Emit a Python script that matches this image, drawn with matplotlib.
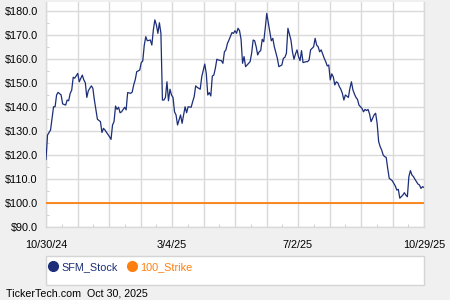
import matplotlib
matplotlib.use("Agg")
import matplotlib.pyplot as plt
from matplotlib.lines import Line2D
from matplotlib.patches import Rectangle
import numpy as np

plt.rcParams["font.family"] = ["Liberation Sans", "DejaVu Sans"]

# trading-day index (0 = 10/30/24, 250 = 10/29/25) and closing price
days = [0, 1, 3, 4, 5, 6, 7, 8, 10, 11, 13, 14, 15, 16, 17, 18, 19, 21, 22, 24,
        25, 26, 27, 28, 30, 31, 32, 33, 34, 36, 37, 38, 39, 42, 43, 44, 45, 46, 47, 48,
        49, 50, 52, 53, 54, 56, 57, 58, 59, 60, 62, 63, 64, 65, 66, 67, 69, 70, 71, 72,
        73, 74, 75, 76, 77, 78, 79, 80, 81, 82, 83, 84, 85, 86, 87, 89, 90, 91, 92, 93,
        94, 96, 97, 98, 99, 100, 102, 103, 105, 106, 107, 108, 109, 110, 111, 112, 113, 114, 116, 117,
        118, 119, 120, 121, 123, 124, 125, 126, 127, 128, 129, 130, 131, 132, 133, 135, 136, 137, 138, 139,
        140, 141, 142, 143, 144, 145, 146, 147, 148, 149, 150, 151, 153, 154, 156, 157, 158, 159, 160, 162,
        163, 164, 165, 166, 167, 168, 169, 170, 172, 173, 174, 175, 177, 178, 179, 180, 181, 182, 184, 185,
        186, 187, 188, 189, 190, 191, 192, 193, 194, 195, 196, 197, 198, 200, 201, 202, 203, 204, 205, 206,
        207, 209, 210, 211, 212, 213, 214, 215, 217, 218, 219, 220, 221, 222, 223, 224, 225, 226, 227, 229,
        230, 231, 232, 233, 234, 236, 237, 238, 239, 240, 241, 242, 243, 244, 245, 246, 247, 248, 249, 250]
price = [118.2, 128.3, 130.4, 135.3, 140.1, 140.1, 145.0, 146.1, 145.0, 141.3, 140.8, 142.9, 142.6, 145.7, 147.0, 152.4, 152.0, 154.0, 150.5, 153.3,
         151.3, 150.1, 144.0, 146.8, 148.8, 147.8, 142.9, 138.8, 134.9, 133.9, 129.4, 131.1, 130.4, 127.6, 126.5, 132.5, 133.9, 140.4, 139.0, 139.9,
         137.6, 138.0, 139.9, 138.8, 146.0, 145.7, 146.2, 149.2, 151.3, 154.7, 155.4, 158.5, 159.2, 165.8, 169.3, 167.6, 167.9, 165.8, 172.1, 176.3,
         174.2, 170.7, 175.1, 170.7, 142.9, 142.9, 144.0, 150.5, 142.6, 147.4, 145.0, 144.0, 138.0, 136.7, 132.5, 136.7, 133.2, 136.7, 140.1, 137.6,
         140.1, 139.9, 142.2, 144.3, 148.8, 148.2, 147.4, 152.6, 157.9, 154.0, 145.0, 146.0, 144.6, 152.9, 153.3, 156.1, 159.9, 159.6, 159.3, 158.2,
         163.0, 163.8, 166.5, 167.9, 171.0, 170.7, 171.8, 170.7, 172.8, 171.8, 168.2, 158.2, 161.0, 156.8, 157.5, 158.9, 162.4, 167.9, 167.6, 165.1,
         161.7, 163.0, 163.5, 168.2, 167.2, 172.8, 179.0, 175.1, 171.4, 167.6, 168.6, 165.1, 160.3, 156.8, 157.5, 160.3, 160.7, 162.4, 172.8, 167.9,
         163.0, 159.9, 162.1, 163.8, 161.0, 159.3, 163.5, 158.5, 158.9, 158.9, 159.6, 163.8, 165.1, 168.6, 165.8, 165.1, 163.0, 163.8, 160.3, 158.9,
         157.1, 157.5, 151.3, 153.8, 152.6, 149.2, 150.5, 150.1, 148.5, 147.4, 145.7, 142.9, 145.0, 144.0, 147.8, 150.5, 147.1, 145.4, 144.0, 143.2,
         140.8, 139.4, 138.0, 139.0, 138.5, 139.0, 137.1, 133.9, 136.7, 137.4, 133.2, 125.6, 123.5, 122.1, 120.0, 119.3, 119.0, 114.4, 110.3, 109.3,
         108.2, 107.1, 105.4, 105.7, 102.0, 103.3, 104.3, 103.3, 102.6, 111.0, 113.5, 111.7, 111.0, 109.9, 108.9, 107.9, 107.5, 106.1, 106.8, 106.5]
strike = 100.0
n_days = 250
date_labels = ["10/30/24", "3/4/25", "7/2/25", "10/29/25"]

navy = "#1c2e78"
orange = "#ff7f0e"
grid_c = "#d9d9d9"

fig = plt.figure(figsize=(4.5, 3), dpi=100, facecolor="#f0f0f0")
ax = fig.add_axes([46 / 450, 1 - 227 / 300, 378 / 450, 225 / 300])
ax.set_facecolor("white")

ax.plot(days, price, color=navy, lw=0.9, zorder=3)
ax.axhline(strike, color=orange, lw=1.3, zorder=3)

ax.set_xlim(0, n_days)
ax.set_ylim(90, 183.75)

ax.set_xticks(np.linspace(0, n_days, 13))
ax.set_xticks(np.linspace(0, n_days, 25), minor=True)
ax.set_xticklabels([date_labels[i // 4] if i % 4 == 0 else "" for i in range(13)])
ax.set_yticks(np.arange(90, 181, 10))
ax.set_yticks(np.arange(95, 181, 10), minor=True)
ax.set_yticklabels(["$%.1f" % v for v in np.arange(90, 181, 10)])

ax.grid(True, which="major", color=grid_c, lw=1.0, zorder=0)
ax.tick_params(which="major", length=0, labelsize=7.8, colors="black")
ax.tick_params(axis="y", which="major", pad=6)
ax.tick_params(axis="x", which="major", pad=9)
ax.tick_params(which="minor", direction="in", length=2.5, color="#c8c8c8")
ax.spines["top"].set_visible(False)
for s in ["left", "bottom", "right"]:
    ax.spines[s].set_color(grid_c)
    ax.spines[s].set_linewidth(1.0)

# legend box
fig.patches.append(Rectangle((46 / 450, 1 - 285 / 300), 378 / 450, 29 / 300,
                             transform=fig.transFigure, facecolor="white",
                             edgecolor="#d4d4d4", lw=1.0))
handles = [Line2D([], [], ls="none", marker="o", ms=7, color=navy),
           Line2D([], [], ls="none", marker="o", ms=7, color=orange)]
leg = fig.legend(handles, ["SFM_Stock", "100_Strike"], loc="center left",
                 bbox_to_anchor=(50 / 450, 1 - 267 / 300), ncol=2, frameon=False,
                 fontsize=7.8, handlelength=0.6, handletextpad=0.45,
                 columnspacing=1.0, borderpad=0, borderaxespad=0)
for t, c in zip(leg.get_texts(), [navy, orange]):
    t.set_color(c)

fig.text(6 / 450, 1 - 294 / 300, "TickerTech.com  Oct 30, 2025",
         fontsize=7.7, va="center", ha="left")

fig.savefig("out.png", dpi=100, facecolor=fig.get_facecolor())
